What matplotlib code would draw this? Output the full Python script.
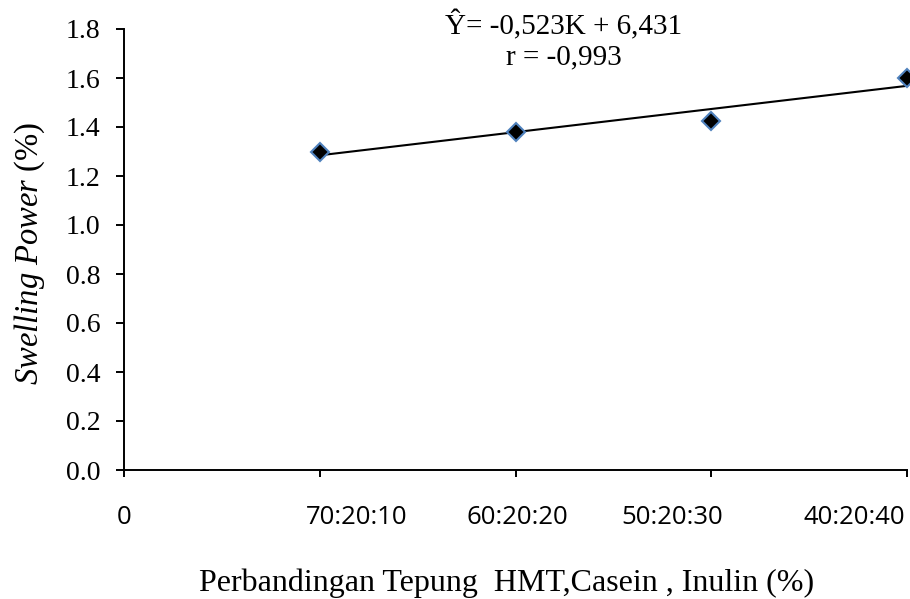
import matplotlib
matplotlib.use("Agg")
import matplotlib.pyplot as plt
import numpy as np

# data
categories = ["0", "70:20:10", "60:20:20", "50:20:30", "40:20:40"]
x_pos = [1, 2, 3, 4]
swelling = [1.30, 1.38, 1.425, 1.60]
y_ticks = [0.0, 0.2, 0.4, 0.6, 0.8, 1.0, 1.2, 1.4, 1.6, 1.8]

# the category labels in the source sit a bit off their ticks
label_x = [0.0, 1.19, 2.01, 2.80, 3.73]

plt.rcParams['font.family'] = ['Liberation Serif', 'DejaVu Serif']
plt.rcParams['mathtext.fontset'] = 'custom'
plt.rcParams['mathtext.rm'] = 'Liberation Serif'
plt.rcParams['mathtext.it'] = 'Liberation Serif:italic'

fig = plt.figure(figsize=(9.1, 5.99), dpi=100)
ax = fig.add_axes([124 / 910, 1 - 470 / 599, (907 - 124) / 910, (470 - 29) / 599])

# trend line (linear fit)
k, b = np.polyfit(x_pos, swelling, 1)
xs = np.array([x_pos[0], x_pos[-1]])
ax.plot(xs, k * xs + b, color='black', linewidth=1.5, zorder=2)

ax.plot(x_pos, swelling, linestyle='none', marker='D', markersize=9.5,
        markerfacecolor='black', markeredgecolor='#4f81bd',
        markeredgewidth=1.5, clip_on=False, zorder=3)

ax.set_xlim(0, 4)
ax.set_ylim(0, 1.8)
ax.set_xticks(range(len(categories)))
ax.set_xticklabels([])
for lx, lab in zip(label_x, categories):
    ax.text(lx, -0.107, lab, fontfamily='Open Sans', fontsize=18.5,
            ha='center', va='center', transform=ax.get_xaxis_transform())
ax.set_yticks(y_ticks)
ax.set_yticklabels([f"{v:.1f}" for v in y_ticks], fontsize=20)

ax.spines['top'].set_visible(False)
ax.spines['right'].set_visible(False)
for s in ['left', 'bottom']:
    ax.spines[s].set_linewidth(1.4)
ax.tick_params(axis='x', direction='out', length=5, width=1.4)
ax.tick_params(axis='y', direction='out', length=6, width=1.4, pad=11)

ax.set_ylabel(r"$\mathit{Swelling\ Power}$ (%)", fontsize=23.5)
ax.yaxis.set_label_coords(-0.12, 0.49)
ax.set_xlabel("Perbandingan Tepung  HMT,Casein , Inulin (%)", fontsize=23)
ax.xaxis.set_label_coords(0.488, -(583 - 470) / 441)
ax.xaxis.label.set_va('center')
ax.yaxis.label.set_va('center')

fig.text(564 / 910, 1 - 25 / 599, "\u0176= -0,523K + 6,431", fontsize=21,
         ha='center', va='center')
fig.text(564 / 910, 1 - 57 / 599, "r = -0,993", fontsize=21,
         ha='center', va='center')

fig.savefig("out.png", dpi=100)
